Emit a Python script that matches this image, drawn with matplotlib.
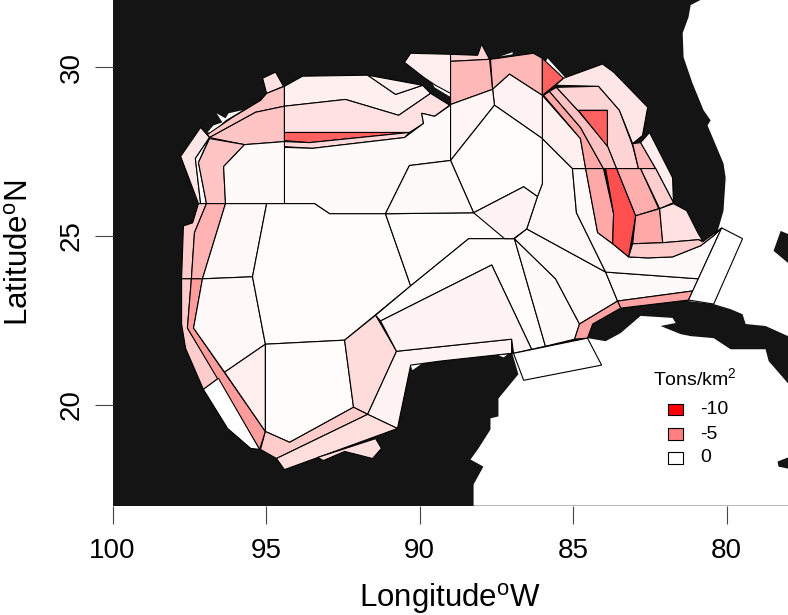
import matplotlib
matplotlib.use("Agg")
import matplotlib.pyplot as plt
from matplotlib.colors import LinearSegmentedColormap, Normalize
from matplotlib.patches import Polygon, Rectangle

plt.rcParams['font.family'] = ['Liberation Sans', 'DejaVu Sans']
plt.rcParams['mathtext.fontset'] = 'custom'
plt.rcParams['mathtext.rm'] = 'Liberation Sans'
plt.rcParams['mathtext.default'] = 'regular'

LAND = '#141414'

# water outlines, lon (deg W) / lat (deg N)
atlantic = [(80.85, 32), (81.17, 31.85), (81.24, 31.49), (81.43, 31.02), (81.40, 30.30), (81.11, 29.53),
            (80.75, 28.73), (80.52, 28.43), (80.62, 28.28), (80.10, 27.15), (80.03, 26.73), (80.10, 25.75),
            (80.26, 25.24), (81.24, 23.07), (80.42, 22.98), (79.87, 22.83), (79.48, 22.68), (79.38, 22.39),
            (78.73, 22.33), (78, 22.03), (78, 32)]
caribbean = [(88.24, 17), (88.24, 17.63), (87.92, 18.16), (88.34, 18.37), (88.08, 18.70), (87.69, 19.26),
             (87.69, 19.59), (87.43, 19.65), (87.43, 20.18), (86.78, 20.90), (86.97, 21.49), (84.53, 21.97),
             (83.94, 21.88), (83.45, 22.12), (82.80, 22.63), (81.76, 22.57), (81.66, 22.42), (82.15, 22.33),
             (81.50, 22.09), (81.17, 22.03), (80.42, 21.97), (79.87, 21.64), (78.73, 21.64), (78.63, 21.29),
             (78, 20.63), (78, 17)]
coast_bits = [
    [(96.91, 28.07), (96.71, 28.28), (96.42, 28.37), (96.61, 28.64), (96.32, 28.49), (96.22, 28.64), (95.77, 28.73),
     (96.32, 28.43), (96.74, 28.07)],
    [(87.46, 30.30), (86.97, 30.45), (86.97, 30.39), (87.36, 30.33)],
    [(85.83, 30.27), (85.24, 29.68), (85.34, 29.68), (85.90, 30.15)],
    [(89.58, 29.53), (88.99, 29.26), (89.02, 29.14), (89.51, 29.41)],
    [(90.29, 21.17), (89.90, 21.23), (90.23, 21.02)],
    [(87.43, 21.46), (87.13, 21.49), (87.26, 21.40)],
]
islands = [
    [(78.24, 25.15), (78, 25.06), (78, 24.20), (78.47, 24.56)],
    [(78.34, 18.31), (78, 18.43), (78, 18.10), (78.31, 18.16)],
]

# model cells, lon (deg W) / lat (deg N)
tx_tab = [(95.11, 29.68), (94.69, 29.86), (94.43, 29.44), (94.98, 29.23)]
tx_strip = [(96.91, 28.01), (96.09, 28.52), (95.18, 29.02), (94.98, 29.23), (94.40, 29.44), (94.40, 28.85),
            (95.34, 28.67), (96.84, 27.92)]
tx_shelf = [(96.84, 27.92), (95.34, 28.67), (94.40, 28.85), (94.40, 27.80), (95.70, 27.71)]
la_coast = [(94.40, 29.44), (93.81, 29.74), (91.69, 29.77), (90.78, 29.20), (89.90, 29.47), (89.64, 29.23),
            (90.68, 28.58), (92.41, 29.05), (94.40, 28.85)]
la_bay = [(91.69, 29.77), (89.90, 29.47), (90.78, 29.20)]
la_mid = [(94.40, 28.85), (92.41, 29.05), (90.68, 28.58), (89.64, 29.23), (89.02, 28.88), (89.51, 28.55),
          (89.93, 28.64), (89.87, 28.34), (90.33, 28.07), (94.40, 28.07)]
la_red = [(94.40, 28.07), (90.33, 28.07), (93.58, 27.77), (94.40, 27.83)]
la_edge = [(94.40, 27.80), (93.58, 27.77), (90.33, 28.07), (90.49, 27.92), (93.49, 27.60), (94.40, 27.65)]
la_deep = [(94.40, 27.63), (93.49, 27.60), (90.49, 27.92), (89.87, 28.34), (89.93, 28.64), (89.51, 28.55),
           (88.99, 28.88), (88.99, 27.24), (90.33, 27.09), (91.11, 25.66), (92.93, 25.66), (93.42, 25.96),
           (94.40, 25.96)]
w1 = [(97.13, 28.22), (96.84, 27.92), (97.30, 27.30), (97.13, 25.96), (97.20, 25.96), (97.78, 27.36)]
w2 = [(96.84, 27.92), (97.30, 27.30), (97.13, 25.96), (96.94, 25.96), (97.20, 27.18)]
w3 = [(96.84, 27.89), (95.70, 27.71), (96.38, 27.06), (96.32, 25.96), (96.94, 25.96), (97.20, 27.18)]
w4 = [(95.70, 27.71), (94.40, 27.80), (94.40, 25.96), (96.32, 25.96), (96.38, 27.06)]
m1a = [(97.69, 25.30), (97.39, 25.39), (97.20, 25.96), (96.94, 25.96), (97.33, 25.10), (97.43, 23.73), (97.75, 23.73)]
m1b = [(97.75, 23.73), (97.43, 23.73), (97.56, 22.27), (96.55, 20.78), (97.04, 20.45), (97.62, 21.67), (97.75, 22.39)]
m2a = [(96.94, 25.96), (96.32, 25.96), (97.07, 23.73), (97.43, 23.73), (97.33, 25.10)]
m2b = [(97.43, 23.73), (97.07, 23.73), (97.36, 22.27), (95.02, 19.20), (95.21, 18.67), (97.56, 22.27)]
m0 = [(97.04, 20.45), (96.55, 20.78), (95.21, 18.67), (95.50, 18.70), (96.25, 19.29)]
m3a = [(96.32, 25.96), (94.98, 25.96), (95.44, 23.79), (97.07, 23.73)]
m3b = [(97.07, 23.73), (95.44, 23.79), (95.02, 21.79), (96.35, 20.96), (97.36, 22.27)]
m3c = [(96.35, 20.96), (95.02, 21.79), (95.02, 19.20)]
gulf_w = [(94.98, 25.96), (93.42, 25.96), (92.93, 25.66), (91.11, 25.66), (90.29, 23.52), (92.44, 21.91),
          (95.02, 21.79), (95.44, 23.79)]
bay_c = [(95.02, 21.79), (92.44, 21.91), (92.15, 19.92), (94.23, 18.88), (95.02, 19.20)]
bay_e = [(92.44, 21.91), (91.43, 22.65), (90.75, 21.58), (91.69, 19.71), (92.15, 19.92)]
yuc_w = [(90.75, 21.58), (87.00, 21.94), (87.00, 21.52), (89.32, 21.29), (90.29, 21.17), (90.72, 19.29), (91.69, 19.71)]
bay_s1 = [(95.18, 18.67), (95.02, 19.20), (94.23, 18.88), (92.15, 19.92), (91.69, 19.71), (94.66, 18.40)]
bay_s2 = [(94.66, 18.40), (91.69, 19.71), (90.72, 19.29), (94.40, 18.07)]
bay_tab = [(91.43, 18.99), (91.24, 18.70), (91.53, 18.40), (92.44, 18.61), (93.13, 18.34), (93.32, 18.43)]
c0 = [(91.11, 25.66), (88.24, 25.69), (86.91, 24.92), (88.40, 24.92), (90.29, 23.52)]
c1 = [(91.43, 22.65), (90.29, 23.52), (88.40, 24.92), (86.91, 24.92), (85.90, 21.73), (86.35, 21.64),
      (87.65, 24.14), (91.27, 22.48)]
c2 = [(91.27, 22.48), (87.65, 24.14), (86.35, 21.64), (86.94, 21.52), (87.00, 21.94), (90.75, 21.58)]
c3 = [(86.91, 24.92), (85.57, 23.73), (84.79, 22.39), (84.95, 21.94), (85.90, 21.73)]
c4 = [(86.91, 24.92), (86.51, 25.21), (83.94, 23.93), (83.55, 23.07), (84.79, 22.39), (85.57, 23.73)]
c5 = [(83.94, 23.93), (80.92, 23.73), (81.10, 23.37), (83.55, 23.07)]
c6 = [(83.55, 23.07), (81.10, 23.37), (81.24, 23.10), (83.45, 22.86)]
c_strip = [(84.95, 21.94), (84.53, 21.97), (84.36, 22.39), (83.45, 22.86), (83.55, 23.07), (84.79, 22.39)]
c7 = [(86.0, 27.89), (85.02, 27.0), (84.89, 25.69), (83.94, 23.93), (86.51, 25.21), (86.16, 26.17), (86.0, 26.55)]
c8 = [(85.02, 27.0), (84.59, 27.0), (84.20, 25.10), (83.71, 24.77), (83.19, 24.38), (82.57, 24.35), (81.76, 24.38),
      (80.85, 24.71), (80.42, 25.01), (80.16, 25.24), (80.92, 23.73), (83.94, 23.93), (84.89, 25.69)]
c9 = [(86.0, 29.17), (84.76, 27.89), (84.59, 27.0), (85.02, 27.0), (86.0, 27.89)]
u1 = [(90.49, 30.15), (90.29, 30.42), (88.99, 30.39), (88.99, 29.23), (89.48, 29.47), (89.87, 29.71)]
u2a = [(88.99, 30.39), (88.11, 30.36), (87.98, 30.69), (87.72, 30.24), (88.99, 30.18)]
u2b = [(88.99, 30.18), (87.72, 30.24), (87.62, 29.35), (88.99, 28.90)]
u3 = [(87.69, 30.24), (86.29, 30.42), (86.0, 30.27), (86.0, 29.17), (87.07, 29.80), (87.62, 29.35)]
u4 = [(86.0, 30.27), (85.31, 29.68), (86.0, 29.17)]
u5 = [(87.62, 29.35), (87.07, 29.80), (86.0, 29.17), (86.0, 27.89), (87.56, 28.88)]
u6 = [(88.99, 28.90), (87.62, 29.35), (87.56, 28.88), (88.99, 27.24)]
u7 = [(88.99, 27.24), (87.56, 28.88), (86.0, 27.89), (86.0, 26.55), (86.16, 26.17), (86.61, 26.46), (88.24, 25.69)]
u8 = [(88.24, 25.69), (86.61, 26.46), (86.16, 26.17), (86.51, 25.21), (86.94, 24.92), (87.23, 24.92)]
u9 = [(91.11, 25.66), (90.33, 27.09), (88.99, 27.24), (88.24, 25.69)]
r1 = [(85.96, 29.17), (85.77, 29.29), (84.76, 28.22), (84.01, 27.0), (84.59, 27.0), (84.76, 27.89)]
r2 = [(85.77, 29.29), (85.54, 29.41), (84.85, 28.73), (83.88, 27.68), (83.58, 27.0), (84.01, 27.0), (84.76, 28.22)]
r3 = [(84.85, 28.73), (83.88, 28.73), (83.88, 27.68)]
r4 = [(85.54, 29.41), (84.17, 29.44), (83.49, 28.73), (83.06, 27.68), (82.87, 27.0), (83.58, 27.0), (83.88, 27.68),
      (83.88, 28.73), (84.85, 28.73)]
r5 = [(83.06, 27.74), (82.80, 27.77), (82.31, 27.0), (82.87, 27.0)]
r6 = [(85.57, 29.47), (85.31, 29.68), (84.04, 30.10), (83.68, 29.86), (82.57, 28.82), (82.74, 27.98), (83.06, 27.74),
      (83.49, 28.73), (84.17, 29.44)]
r7 = [(82.80, 27.77), (82.51, 28.07), (81.76, 26.73), (81.73, 25.99), (82.31, 27.0)]
r8 = [(84.59, 27.0), (84.01, 27.0), (83.68, 25.66), (83.71, 24.77), (84.20, 25.10)]
r9 = [(83.94, 27.0), (83.58, 27.0), (82.96, 25.60), (83.19, 24.38), (83.71, 24.77), (83.68, 25.66)]
r10 = [(83.58, 27.0), (82.80, 27.0), (82.21, 25.81), (82.96, 25.60)]
r11 = [(82.80, 27.0), (82.31, 27.0), (81.73, 25.99), (82.18, 25.81)]
r12 = [(82.96, 25.60), (82.18, 25.81), (82.08, 24.80), (83.06, 24.77)]
r13 = [(82.18, 25.81), (81.73, 25.96), (81.30, 25.75), (80.94, 25.10), (80.78, 24.86), (80.91, 24.89), (82.08, 24.80)]
r14 = [(83.19, 24.38), (83.06, 24.77), (82.08, 24.80), (80.91, 24.89), (80.78, 24.83), (80.16, 25.24), (80.42, 25.01),
       (80.85, 24.71), (81.76, 24.38), (82.57, 24.35)]
box_yuc = [(86.94, 21.52), (84.53, 21.97), (84.07, 21.17), (86.61, 20.72)]
box_fl = [(80.16, 25.24), (79.48, 24.92), (80.42, 22.98), (81.24, 23.10)]

cells = [tx_tab, tx_strip, tx_shelf, la_coast, la_bay, la_mid, la_red, la_edge, la_deep, w1, w2, w3, w4,
         m1a, m1b, m2a, m2b, m0, m3a, m3b, m3c, gulf_w, bay_c, bay_e, yuc_w, bay_s1, bay_s2, bay_tab,
         c0, c1, c2, c3, c4, c5, c6, c_strip, c7, c8, c9, u1, u2a, u2b, u3, u4, u5, u6, u7, u8, u9,
         r1, r2, r3, r4, r5, r6, r7, r8, r9, r10, r11, r12, r13, r14, box_yuc, box_fl]
tons = [-1.2, -2.3, -2.3, -0.6, -0.6, -1.2, -6.2, -1.5, -0.2, -1.0, 0, -2.3, -0.2,
        -2.0, -2.0, -3.0, -3.9, 0, -0.3, -0.3, -0.7, -0.15, -0.15, -1.4, -0.5, -2.0, -1.3, -1.3,
        -0.15, -0.15, -0.5, -0.2, -0.2, -0.2, -3.6, -3.6, -0.3, -0.2, -0.6, -0.7, -1.7, -2.8, -2.8, -6.2, -0.5, -0.4, -0.15, -0.5, -0.2,
        -3.4, -2.4, -6.2, -1.7, -2.8, -1.0, -0.7, -3.4, -6.9, -3.2, -1.9, -3.4, -1.2, -2.0, 0, 0]

x_ticks = [100, 95, 90, 85, 80]
y_ticks = [20, 25, 30]
legend_values = [-10, -5, 0]
legend_lats = [19.68, 18.96, 18.25]

cmap = LinearSegmentedColormap.from_list('tons', ['#ff0000', '#ffffff'])
norm = Normalize(-10, 0)

fig = plt.figure(figsize=(7.88, 6.15), dpi=100)
ax = fig.add_axes([112.5 / 788, (615 - 505.7) / 615, 675.5 / 788, 505.7 / 615])
ax.set_facecolor(LAND)
ax.set_xlim(100, 78)
ax.set_ylim(17, 32)

for shape in [atlantic, caribbean] + coast_bits:
    ax.add_patch(Polygon(shape, facecolor='white', edgecolor='none'))
for shape in islands:
    ax.add_patch(Polygon(shape, facecolor=LAND, edgecolor='none'))
for shape, value in zip(cells, tons):
    ax.add_patch(Polygon(shape, facecolor=cmap(norm(value)), edgecolor='black', linewidth=0.8))

# legend
ax.text(82.41, 20.78, 'Tons/km$^2$', fontsize=14, ha='left', va='center')
for value, lat in zip(legend_values, legend_lats):
    ax.add_patch(Rectangle((81.92, lat), -0.49, 0.33, facecolor=cmap(norm(value)), edgecolor='black', linewidth=0.8))
    ax.text(80.85, lat + 0.165, str(value), fontsize=14, ha='left', va='center')

for side in ax.spines:
    ax.spines[side].set_visible(False)
ax.set_xticks(x_ticks)
ax.set_yticks(y_ticks)
ax.tick_params(length=13, width=0.8, color='#444444', labelsize=20)
ax.tick_params(axis='x', pad=10)
ax.tick_params(axis='y', pad=7)
plt.setp(ax.get_yticklabels(), rotation=90, va='center')

ax.set_xlabel('Longitude$^{o}$W', fontsize=22.5)
ax.set_ylabel('Latitude$^{o}$N', fontsize=22.5)
ax.xaxis.set_label_coords(0.5, -0.149)
ax.yaxis.set_label_coords(-0.115, 0.5)

fig.savefig('out.png', dpi=100)
